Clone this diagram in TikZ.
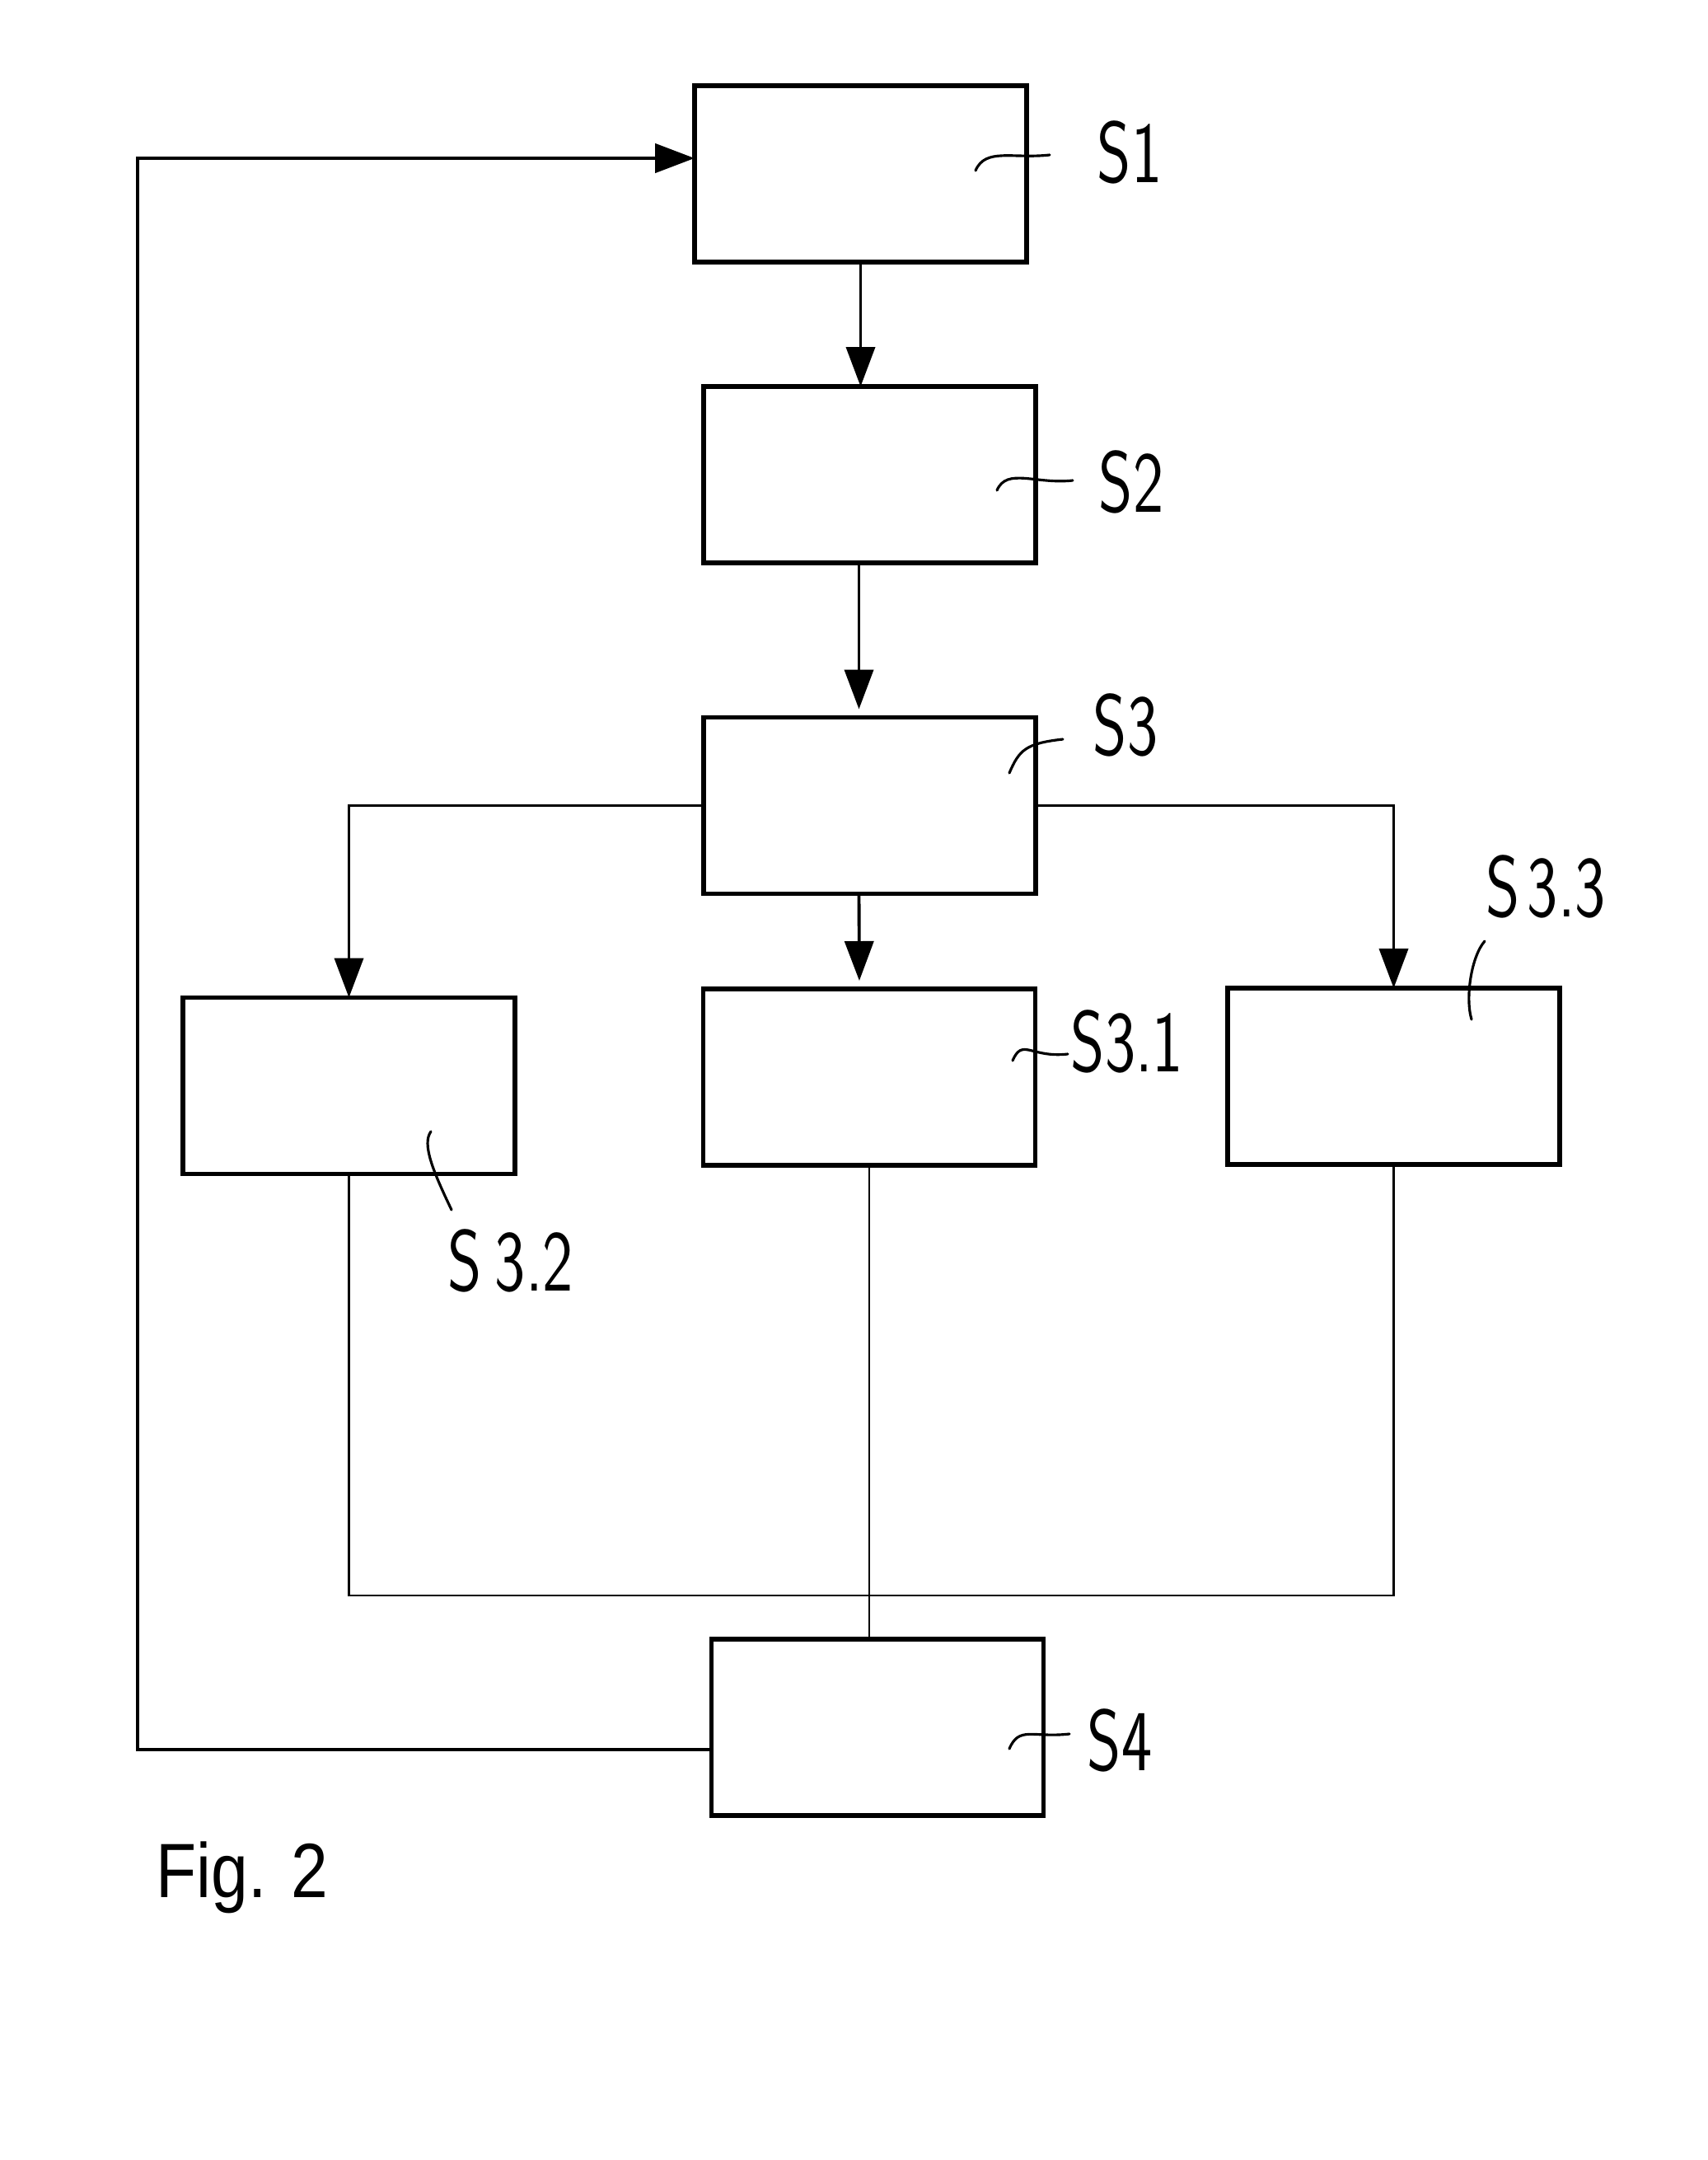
\documentclass[tikz,border=0pt]{standalone}
\usepackage{fontspec}
\newfontfamily\figfont{Liberation Sans}
\usetikzlibrary{arrows.meta}
\def\squiggle(#1)(#2){\draw[leaderline] (#1) .. controls +(0.12,0.28) and +(-0.45,-0.05) .. (#2);}
\newcommand{\handtext}[1]{\scalebox{0.75}[1]{#1}}
\tikzset{
	stepbox/.style={draw, line width=1.5pt, minimum width=4.03cm, minimum height=2.14cm, inner sep=0pt, outer sep=0pt},
	steplabel/.style={font=\sffamily\fontsize{30}{32}\selectfont, inner sep=0pt},
	flowarrow/.style={line width=1.1pt, -{Triangle[length=4.8mm,width=3.5mm]}},
	joinline/.style={line width=0.8pt},
	loopline/.style={line width=1.4pt, -{Triangle[length=4.8mm,width=3.5mm]}},
	leaderline/.style={line width=0.9pt, line cap=round}
}

\begin{document}
\begin{tikzpicture}
		%%%%% BOXES %%%%%
		\useasboundingbox (0,0) rectangle (20.73,-26.21);
		
		\node[stepbox] (S1) at (10.445,-2.11) {};
		\node[stepbox] (S2) at (10.555,-5.76) {};
		\node[stepbox] (S3) at (10.555,-9.775) {};
		\node[stepbox] (S32) at (4.235,-13.175) {};
		\node[stepbox] (S31) at (10.55,-13.07) {};
		\node[stepbox] (S33) at (16.915,-13.06) {};
		\node[stepbox] (S4) at (10.65,-20.96) {};
		
		%%%%% ARROWS %%%%%
		\draw[flowarrow] (S1.south) -- (S1.south |- S2.north);
		\draw[flowarrow, shorten >=1mm] ([xshift=-1.3mm]S2.south) -- ([xshift=-1.3mm]S3.north);
		\draw[flowarrow] (S3.west) -| (S32.north);
		\draw[flowarrow] (S3.east) -| (S33.north);
		\draw[flowarrow, shorten >=1mm] ([xshift=-1.3mm]S3.south) -- ([xshift=-1.2mm]S31.north);
		
		\coordinate (merge) at (10.5,-19.36);
		\draw[joinline] (S32.south) |- (merge) -| (S33.south);
		\draw[joinline] (S31.south) -- (S31.south |- S4.north);
		
		\coordinate (loopB) at (1.67,-21.23);
		\coordinate (loopT) at (1.67,-1.92);
		\draw[loopline] (S4.west |- loopB) -- (loopB) -- (loopT) -- (S1.west |- loopT);
		
		%%%%% LABELS %%%%%
		\node[steplabel] (S1lbl) at (13.71,-1.85) {\handtext{S1}};
		\node[steplabel] (S2lbl) at (13.73,-5.85) {\handtext{S2}};
		\node[steplabel] (S3lbl) at (13.66,-8.80) {\handtext{S3}};
		\node[steplabel] (S31lbl) at (13.68,-12.64) {\handtext{S3.1}};
		\node[steplabel] (S32lbl) at (6.20,-15.30) {\handtext{S\kern0.2em3.2}};
		\node[steplabel] (S33lbl) at (18.76,-10.76) {\handtext{S\kern0.12em3.3}};
		\node[steplabel] (S4lbl) at (13.59,-21.12) {\handtext{S4}};
		
		\coordinate (ld1a) at (11.84,-2.07);
		\coordinate (ld1b) at (12.74,-1.88);
		\coordinate (ld2a) at (12.10,-5.95);
		\coordinate (ld2b) at (13.02,-5.83);
		\coordinate (ld3a) at (12.25,-9.38);
		\coordinate (ld3b) at (12.90,-8.97);
		\coordinate (ld31a) at (12.29,-12.87);
		\coordinate (ld31b) at (12.96,-12.79);
		\coordinate (ld4a) at (12.25,-21.22);
		\coordinate (ld4b) at (12.98,-21.04);
		\squiggle(ld1a)(ld1b)
		\squiggle(ld2a)(ld2b)
		\squiggle(ld3a)(ld3b)
		\squiggle(ld31a)(ld31b)
		\squiggle(ld4a)(ld4b)
		
		\coordinate (ld32a) at (5.23,-13.73);
		\coordinate (ld32b) at (5.48,-14.68);
		\draw[leaderline] (ld32a) .. controls (5.12,-13.88) and (5.25,-14.2) .. (ld32b);
		\coordinate (ld33a) at (18.02,-11.42);
		\coordinate (ld33b) at (17.86,-12.37);
		\draw[leaderline] (ld33a) .. controls (17.86,-11.6) and (17.78,-12.1) .. (ld33b);
		
		\node[anchor=base west, inner sep=0pt, font=\figfont\fontsize{26.6}{30}\selectfont] (figcap) at (1.89,-23.02) {\scalebox{0.86}[1]{Fig. 2}};
		%%%%% END %%%%%
\end{tikzpicture}
\end{document}
